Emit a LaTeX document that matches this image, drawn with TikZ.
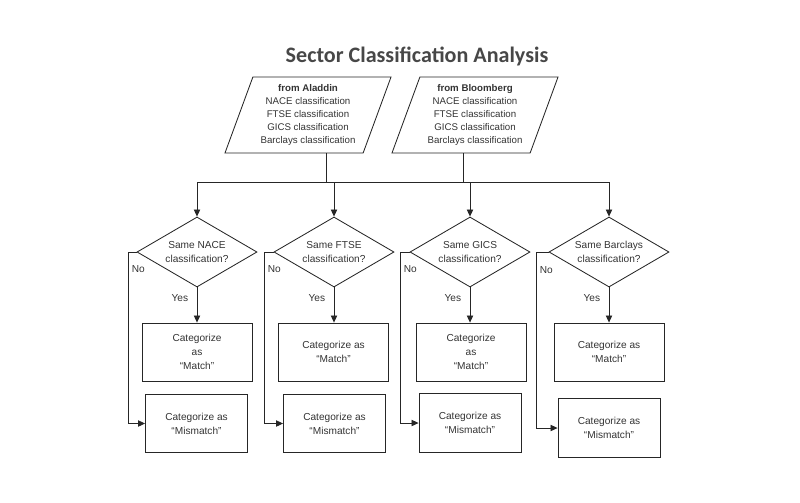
\documentclass[tikz,border=0pt]{standalone}
\usepackage{fontspec}
\setmainfont{Liberation Sans}
\newfontfamily\titlefont{Carlito}
\usetikzlibrary{shapes.geometric,arrows.meta}

\tikzset{
    flow/.style={draw=black!85, line width=0.6pt},
    arr/.style={flow, -{Triangle[length=5pt,width=4.5pt]}},
    txt/.style={text=black!80, font=\fontsize{7.2}{10}\selectfont, align=center},
    source/.style={txt, draw=black!85, line width=0.6pt, trapezium,
        trapezium left angle=66.5, trapezium right angle=113.5,
        trapezium stretches body, minimum width=4.15cm, minimum height=1.9cm,
        inner sep=1pt, font=\fontsize{6.9}{9.3}\selectfont},
    decision/.style={txt, draw=black!85, line width=0.6pt, diamond, aspect=1.7,
        inner sep=0pt, minimum width=3cm, minimum height=1.75cm},
    matchbox/.style={txt, draw=black!85, line width=0.6pt,
        minimum width=2.75cm, minimum height=1.45cm},
    missbox/.style={txt, draw=black!85, line width=0.6pt,
        minimum width=2.55cm, minimum height=1.47cm},
    lbl/.style={text=black!80, font=\fontsize{7.2}{9}\selectfont, inner sep=2pt}
}

\begin{document}
\begin{tikzpicture}[x=0.025cm, y=-0.025cm]
    \useasboundingbox (0,0) rectangle (800,502);

    \node[text=black!72, font=\titlefont\bfseries\fontsize{15.7}{18}\selectfont] (title) at (417,56) {Sector Classification Analysis};

    \node[source] (aladdin)   at (308,115) {\textbf{from Aladdin}\\NACE classification\\FTSE classification\\GICS classification\\Barclays classification};
    \node[source] (bloomberg) at (475,115) {\textbf{from Bloomberg}\\NACE classification\\FTSE classification\\GICS classification\\Barclays classification};

    \coordinate (ajoin) at (326,182);
    \coordinate (bjoin) at (463,182);

    \node[decision] (dnace) at (197,252) {Same NACE\\classification?};
    \node[decision] (dftse) at (334,252) {Same FTSE\\classification?};
    \node[decision] (dgics) at (470,252) {Same GICS\\classification?};
    \node[decision] (dbarc) at (609,252) {Same Barclays\\classification?};

    \node[matchbox] (matchnace) at (197,352)   {Categorize\\as\\``Match''};
    \node[matchbox] (matchftse) at (333.5,352) {Categorize as\\``Match''};
    \node[matchbox] (matchgics) at (471,352)   {Categorize\\as\\``Match''};
    \node[matchbox] (matchbarc) at (609,352)   {Categorize as\\``Match''};

    \node[missbox] (missnace) at (196.5,423.5) {Categorize as\\``Mismatch''};
    \node[missbox] (missftse) at (334.5,423.5) {Categorize as\\``Mismatch''};
    \node[missbox] (missgics) at (470,423)     {Categorize as\\``Mismatch''};
    \node[missbox] (missbarc) at (609,428)     {Categorize as\\``Mismatch''};

    \draw[flow] (aladdin.south -| ajoin) -- (ajoin);
    \draw[flow] (bloomberg.south -| bjoin) -- (bjoin);
    \draw[flow] (dnace.north |- ajoin) -- (dbarc.north |- ajoin);

    \draw[arr] (dnace.north |- ajoin) -- (dnace.north);
    \draw[arr] (dftse.north |- ajoin) -- (dftse.north);
    \draw[arr] (dgics.north |- ajoin) -- (dgics.north);
    \draw[arr] (dbarc.north |- ajoin) -- (dbarc.north);

    \draw[arr] (dnace.south) -- node[lbl, pos=0.3, left=4pt] {Yes} (dnace.south |- matchnace.north);
    \draw[arr] (dftse.south) -- node[lbl, pos=0.3, left=4pt] {Yes} (dftse.south |- matchftse.north);
    \draw[arr] (dgics.south) -- node[lbl, pos=0.3, left=4pt] {Yes} (dgics.south |- matchgics.north);
    \draw[arr] (dbarc.south) -- node[lbl, pos=0.3, left=4pt] {Yes} (dbarc.south |- matchbarc.north);

    \draw[arr] (dnace.west) -- ++(-8,0) |- node[lbl, pos=0.05, right] {No} (missnace.west);
    \draw[arr] (dftse.west) -- ++(-9,0) |- node[lbl, pos=0.05, right] {No} (missftse.west);
    \draw[arr] (dgics.west) -- ++(-9,0) |- node[lbl, pos=0.05, right] {No} (missgics.west);
    \draw[arr] (dbarc.west) -- ++(-12,0) |- node[lbl, pos=0.05, right] {No} (missbarc.west);
\end{tikzpicture}
\end{document}
